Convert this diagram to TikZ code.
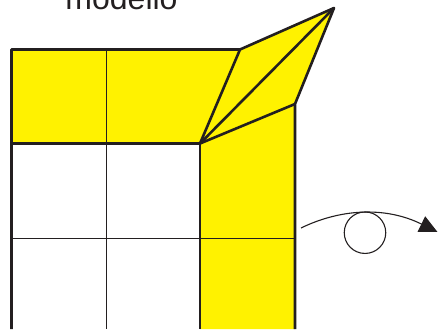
\documentclass[tikz,border=0pt]{standalone}
\usepackage{fontspec}
\setmainfont{Liberation Sans}
\usepackage{tikz}
\usetikzlibrary{arrows.meta}
\definecolor{foldyellow}{HTML}{FFF200}
\definecolor{foldink}{HTML}{231F20}

\begin{document}
\begin{tikzpicture}[x=1pt, y=-1pt]

\tikzset{thickedge/.style = {draw=foldink,line width=2.6pt,line join=round}}
\tikzset{thinedge/.style = {draw=foldink,line width=0.9pt}}
\tikzset{paper/.style = {fill=foldyellow}}
\tikzset{turn/.style = {draw=foldink,line width=1.1pt,-{Triangle[length=18pt,width=17pt]}}}
\clip (0,0) rectangle (441,329);
% points
\coordinate (topleft) at (11.5,49.5);
\coordinate (topfold) at (240,49.5);
\coordinate (tip) at (334,8);
\coordinate (sidefold) at (295,104);
\coordinate (corner) at (200,143.5);
\coordinate (midleft) at (11.5,143.5);
\coordinate (botleft) at (11.5,329);
\coordinate (botinner) at (200,329);
\coordinate (botright) at (295,329);
\coordinate (gridtop) at (106,49.5);
\coordinate (gridbot) at (106,329);
\coordinate (gridleft) at (11.5,238);
\coordinate (gridright) at (295,238);
\coordinate (turnstart) at (301,228);
\coordinate (turnend) at (437.5,232);
% paper
\fill[paper] (topleft) -- (topfold) -- (tip) -- (sidefold) -- (botright) -- (botinner) -- (corner) -- (midleft) -- cycle;
% thin lines
\draw[thinedge] (gridtop) -- (gridbot);
\draw[thinedge] (gridleft) -- (gridright);
% outline
\draw[thickedge] (botleft) -- (topleft) -- (topfold) -- (tip) -- (sidefold) -- (botright);
\draw[thickedge] (midleft) -- (corner) -- (botinner);
\draw[thickedge] (corner) -- (topfold);
\draw[thickedge] (corner) -- (tip);
\draw[thickedge] (corner) -- (sidefold);
% rotation sign
\node[circle,thinedge,line width=1.1pt,minimum size=41.5pt,inner sep=0pt] (pivot) at (365,232.7) {};
\draw[turn] (turnstart) .. controls (340,209) and (385,206) .. (turnend);
% label
\node[anchor=base,font=\fontsize{32}{32}\selectfont,text=foldink,inner sep=0pt] (title) at (121.5,9.5) {modello};
\end{tikzpicture}
\end{document}
